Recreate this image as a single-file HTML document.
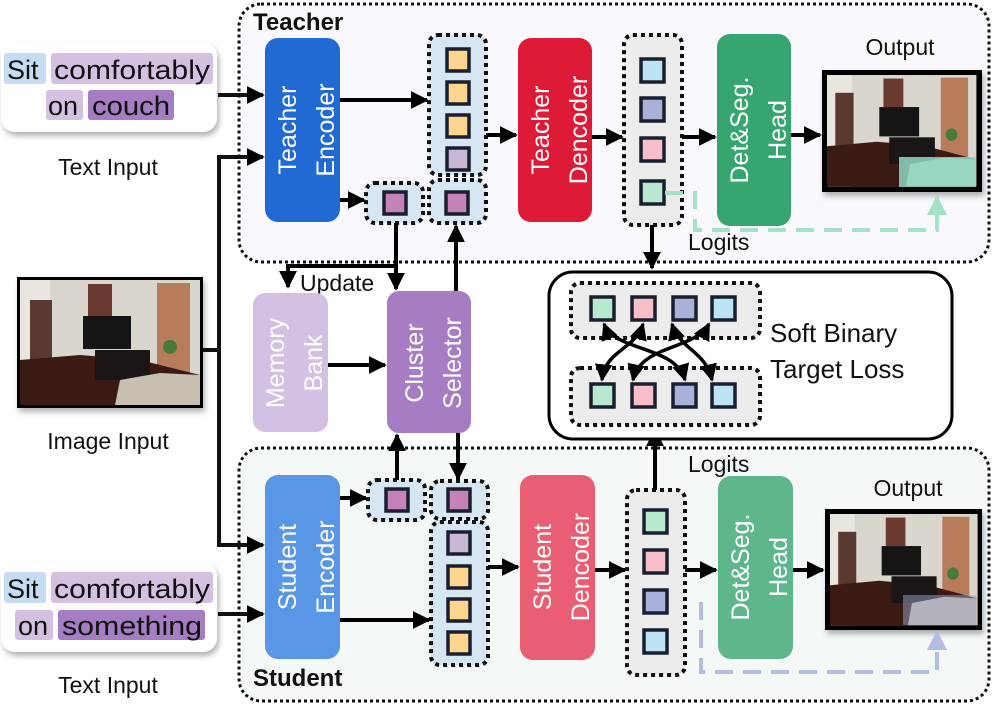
<!DOCTYPE html>
<html><head><meta charset="utf-8"><style>
html,body{margin:0;padding:0;background:#fff;}
svg{display:block;font-family:"Liberation Sans","DejaVu Sans",sans-serif;}
.w{fill:#fff;font-size:25px;}
.b{fill:#111;}
</style></head><body>
<svg width="997" height="706" viewBox="0 0 997 706" xmlns="http://www.w3.org/2000/svg">
<defs>
<marker id="ah" viewBox="0 0 10 10" refX="9" refY="5" markerWidth="4.5" markerHeight="4.5" orient="auto-start-reverse"><path d="M0,0L10,5L0,10z" fill="#000"/></marker>
<marker id="ahs" viewBox="0 0 10 10" refX="9" refY="5" markerWidth="5" markerHeight="5" orient="auto-start-reverse"><path d="M0,0L10,5L0,10z" fill="#000"/></marker>
<marker id="ag" viewBox="0 0 10 10" refX="9" refY="5" markerWidth="5" markerHeight="5" orient="auto"><path d="M0,0L10,5L0,10z" fill="#a6e0c7"/></marker>
<marker id="ab" viewBox="0 0 10 10" refX="9" refY="5" markerWidth="5" markerHeight="5" orient="auto"><path d="M0,0L10,5L0,10z" fill="#b3bce3"/></marker>
<filter id="sh" x="-20%" y="-20%" width="140%" height="150%"><feDropShadow dx="2" dy="4" stdDeviation="3" flood-color="#000" flood-opacity="0.3"/></filter>
<g id="room">
<rect x="0" y="0" width="180" height="125" fill="#d9d6cd"/>
<rect x="0" y="0" width="30" height="125" fill="#e8e6df"/>
<rect x="10" y="20" width="22" height="65" fill="#5a3a30"/>
<rect x="68" y="4" width="24" height="32" fill="#6a3a30"/>
<rect x="137" y="3" width="33" height="90" fill="#b77c5c"/>
<rect x="63" y="36" width="48" height="33" fill="#151515"/>
<path d="M0,125L0,80L60,75L120,80L180,95L180,125z" fill="#3a1a12"/>
<rect x="75" y="70" width="55" height="30" fill="#1a1616"/>
<path d="M95,125L100,100L140,93L180,95L180,125z" fill="#c9bfb0"/>
<circle cx="150" cy="67" r="7" fill="#4a7a3a"/>
</g>
</defs>

<rect x="239" y="4" width="750" height="258" rx="22" fill="#f9f8fc" stroke="#111" stroke-width="3" stroke-dasharray="3,3"/>
<text x="253" y="30" font-size="24" font-weight="bold" class="b">Teacher</text>
<rect x="239" y="448" width="750" height="253" rx="22" fill="#f4f9f8" stroke="#111" stroke-width="3" stroke-dasharray="3,3"/>
<text x="253" y="686" font-size="24" font-weight="bold" class="b">Student</text>

<rect x="1" y="42" width="216" height="90" rx="14" fill="#fff" filter="url(#sh)"/>
<rect x="4" y="53" width="42" height="31" rx="3" fill="#c5dcf3"/>
<rect x="51" y="53" width="162" height="31" rx="3" fill="#d4c1e2"/>
<rect x="46" y="90" width="37" height="30" rx="3" fill="#d4c1e2"/>
<rect x="88" y="90" width="86" height="30" rx="3" fill="#a57dc2"/>
<g font-size="27" class="b"><text x="7" y="79">Sit</text><text x="54" y="79" textLength="156" lengthAdjust="spacingAndGlyphs">comfortably</text><text x="48" y="115">on</text><text x="92" y="115" textLength="78" lengthAdjust="spacingAndGlyphs">couch</text></g>
<text x="108" y="175" font-size="23" text-anchor="middle" class="b">Text Input</text>

<rect x="1" y="562" width="216" height="90" rx="14" fill="#fff" filter="url(#sh)"/>
<rect x="4" y="572" width="42" height="31" rx="3" fill="#c5dcf3"/>
<rect x="51" y="572" width="162" height="31" rx="3" fill="#d4c1e2"/>
<rect x="15" y="610" width="38" height="30" rx="3" fill="#d4c1e2"/>
<rect x="58" y="610" width="147" height="30" rx="3" fill="#a57dc2"/>
<g font-size="27" class="b"><text x="7" y="598">Sit</text><text x="54" y="598" textLength="156" lengthAdjust="spacingAndGlyphs">comfortably</text><text x="18" y="635">on</text><text x="62" y="635" textLength="140" lengthAdjust="spacingAndGlyphs">something</text></g>
<text x="108" y="693" font-size="23" text-anchor="middle" class="b">Text Input</text>

<rect x="17" y="277" width="186" height="131" fill="#000" filter="url(#sh)"/>
<use href="#room" transform="translate(20,280)"/>
<text x="108" y="449" font-size="23" text-anchor="middle" class="b">Image Input</text>

<g stroke="#111" stroke-width="4" fill="none">
<path d="M218,95H263" marker-end="url(#ah)"/>
<path d="M203,350H219V157H263" marker-end="url(#ah)"/>
<path d="M219,350V545H263" marker-end="url(#ah)"/>
<path d="M218,614H263" marker-end="url(#ah)"/>
</g>

<rect x="265" y="38" width="75" height="184" rx="13" fill="#2169d3"/>
<g transform="translate(302,130) rotate(-90)" class="w"><text x="0" y="-6" text-anchor="middle">Teacher</text><text x="0" y="32" text-anchor="middle">Encoder</text></g>
<rect x="265" y="475" width="75" height="184" rx="13" fill="#5a96e6"/>
<g transform="translate(302,567) rotate(-90)" class="w"><text x="0" y="-6" text-anchor="middle">Student</text><text x="0" y="32" text-anchor="middle">Encoder</text></g>

<g stroke="#111" stroke-width="4" stroke-dasharray="4,4">
<rect x="429" y="35" width="57" height="140" rx="9" fill="#d7e6f3"/>
<rect x="366" y="183" width="57" height="40" rx="9" fill="#d7e6f3"/>
<rect x="429" y="180" width="57" height="43" rx="9" fill="#d7e6f3"/>
<rect x="431" y="481" width="57" height="38" rx="9" fill="#d7e6f3"/>
<rect x="368" y="480" width="57" height="40" rx="9" fill="#d7e6f3"/>
<rect x="431" y="522" width="57" height="143" rx="9" fill="#d7e6f3"/>
<rect x="624" y="35" width="58" height="190" rx="9" fill="#ececec"/>
<rect x="627" y="490" width="58" height="185" rx="9" fill="#ececec"/>
</g>
<g stroke="#1a1f2e" stroke-width="3.5">
<rect x="447" y="49" width="22" height="22" fill="#fdd58e"/>
<rect x="447" y="82" width="22" height="22" fill="#fdd58e"/>
<rect x="447" y="115" width="22" height="22" fill="#fdd58e"/>
<rect x="447" y="148" width="22" height="22" fill="#c9b7d8"/>
<rect x="384" y="192" width="22" height="22" fill="#c482b8"/>
<rect x="446" y="192" width="22" height="22" fill="#c482b8"/>
<rect x="386" y="489" width="22" height="22" fill="#c482b8"/>
<rect x="448" y="489" width="22" height="22" fill="#c482b8"/>
<rect x="448" y="532" width="22" height="22" fill="#c9b7d8"/>
<rect x="448" y="566" width="22" height="22" fill="#fdd58e"/>
<rect x="448" y="599" width="22" height="22" fill="#fdd58e"/>
<rect x="448" y="632" width="22" height="22" fill="#fdd58e"/>
<rect x="641" y="59" width="23" height="23" fill="#bde4f6"/>
<rect x="641" y="98" width="23" height="23" fill="#aab1d9"/>
<rect x="641" y="138" width="23" height="23" fill="#f7bfcb"/>
<rect x="641" y="181" width="23" height="23" fill="#b7e8d0"/>
<rect x="644" y="510" width="23" height="23" fill="#b7e8d0"/>
<rect x="644" y="550" width="23" height="23" fill="#f7bfcb"/>
<rect x="644" y="590" width="23" height="23" fill="#aab1d9"/>
<rect x="644" y="630" width="23" height="23" fill="#bde4f6"/>
</g>

<rect x="518" y="38" width="74" height="184" rx="13" fill="#de1b36"/>
<g transform="translate(555,130) rotate(-90)" class="w"><text x="0" y="-6" text-anchor="middle">Teacher</text><text x="0" y="32" text-anchor="middle">Dencoder</text></g>
<rect x="520" y="475" width="75" height="185" rx="13" fill="#e95e73"/>
<g transform="translate(557,567) rotate(-90)" class="w"><text x="0" y="-6" text-anchor="middle">Student</text><text x="0" y="32" text-anchor="middle">Dencoder</text></g>

<rect x="717" y="34" width="74" height="192" rx="13" fill="#36a56f"/>
<g transform="translate(754,130) rotate(-90)" class="w"><text x="0" y="-6" text-anchor="middle">Det&amp;Seg.</text><text x="0" y="32" text-anchor="middle">Head</text></g>
<rect x="718" y="476" width="75" height="183" rx="13" fill="#5eb68d"/>
<g transform="translate(755,567) rotate(-90)" class="w"><text x="0" y="-6" text-anchor="middle">Det&amp;Seg.</text><text x="0" y="32" text-anchor="middle">Head</text></g>

<text x="900" y="55" font-size="23" text-anchor="middle" class="b">Output</text>
<rect x="822" y="70" width="160" height="122" fill="#000" filter="url(#sh)"/>
<use href="#room" transform="translate(827,75) scale(0.83,0.89)"/>
<rect x="899" y="157" width="77" height="30" fill="#8fd8c6" opacity="0.85"/>
<text x="908" y="496" font-size="23" text-anchor="middle" class="b">Output</text>
<rect x="825" y="509" width="157" height="121" fill="#000" filter="url(#sh)"/>
<use href="#room" transform="translate(830,514) scale(0.82,0.89)"/>
<rect x="903" y="595" width="73" height="30" fill="#9aa6c8" opacity="0.5"/>

<g stroke="#000" stroke-width="4" fill="none">
<path d="M340,100H427" marker-end="url(#ah)"/>
<path d="M340,200H364" marker-end="url(#ah)"/>
<path d="M486,135H516" marker-end="url(#ah)"/>
<path d="M592,137H622" marker-end="url(#ah)"/>
<path d="M682,137H715" marker-end="url(#ah)"/>
<path d="M791,135H820" marker-end="url(#ah)"/>
<path d="M652,225V268" marker-end="url(#ah)"/>
<path d="M396,223V289" marker-end="url(#ah)"/>
<path d="M396,266H288V287" marker-end="url(#ah)"/>
<path d="M328,365H385" marker-end="url(#ah)"/>
<path d="M456,291V226" marker-end="url(#ah)"/>
<path d="M397,480V435" marker-end="url(#ah)"/>
<path d="M458,433V479" marker-end="url(#ah)"/>
<path d="M340,498H366" marker-end="url(#ah)"/>
<path d="M340,620H429" marker-end="url(#ah)"/>
<path d="M488,567H518" marker-end="url(#ah)"/>
<path d="M595,570H625" marker-end="url(#ah)"/>
<path d="M685,570H716" marker-end="url(#ah)"/>
<path d="M793,570H823" marker-end="url(#ah)"/>
<path d="M655,490V430" marker-end="url(#ah)"/>
</g>
<text x="300" y="291" font-size="23" class="b">Update</text>
<text x="688" y="250" font-size="23" class="b">Logits</text>
<text x="688" y="472" font-size="23" class="b">Logits</text>

<path d="M665,193H695V230H937V197" stroke="#a6e0c7" stroke-width="4" fill="none" stroke-dasharray="18,10" marker-end="url(#ag)"/>
<path d="M701,602V672H937V632" stroke="#b3bce3" stroke-width="4" fill="none" stroke-dasharray="18,10" marker-end="url(#ab)"/>

<rect x="253" y="293" width="75" height="139" rx="12" fill="#d2c1e2"/>
<g transform="translate(290,363) rotate(-90)" class="w"><text x="0" y="-6" text-anchor="middle">Memory</text><text x="0" y="32" text-anchor="middle">Bank</text></g>
<rect x="387" y="291" width="84" height="142" rx="12" fill="#a67dc2"/>
<g transform="translate(429,363) rotate(-90)" class="w"><text x="0" y="-6" text-anchor="middle">Cluster</text><text x="0" y="32" text-anchor="middle">Selector</text></g>

<rect x="549" y="272" width="403" height="167" rx="24" fill="#fff" stroke="#000" stroke-width="3"/>
<g stroke="#111" stroke-width="4" stroke-dasharray="4,4">
<rect x="571" y="283" width="189" height="55" rx="9" fill="#ececec"/>
<rect x="571" y="368" width="189" height="57" rx="9" fill="#ececec"/>
</g>
<g stroke="#1a1f2e" stroke-width="3.5">
<rect x="591" y="297" width="23" height="23" fill="#b7e8d0"/>
<rect x="632" y="297" width="23" height="23" fill="#f7bfcb"/>
<rect x="673" y="297" width="23" height="23" fill="#aab1d9"/>
<rect x="712" y="297" width="23" height="23" fill="#bde4f6"/>
<rect x="591" y="384" width="23" height="23" fill="#b7e8d0"/>
<rect x="632" y="384" width="23" height="23" fill="#f7bfcb"/>
<rect x="673" y="384" width="23" height="23" fill="#aab1d9"/>
<rect x="712" y="384" width="23" height="23" fill="#bde4f6"/>
</g>
<g stroke="#000" stroke-width="3.5" fill="none">
<path d="M604,324C615,352 675,345 685,380" marker-start="url(#ahs)" marker-end="url(#ahs)"/>
<path d="M643,324C635,350 605,350 602,380" marker-start="url(#ahs)" marker-end="url(#ahs)"/>
<path d="M672,324C680,350 705,350 712,380" marker-start="url(#ahs)" marker-end="url(#ahs)"/>
<path d="M709,324C695,350 640,345 633,380" marker-start="url(#ahs)" marker-end="url(#ahs)"/>
</g>
<text x="770" y="342" font-size="26" class="b">Soft Binary</text>
<text x="770" y="378" font-size="26" class="b">Target Loss</text>
</svg>
</body></html>
